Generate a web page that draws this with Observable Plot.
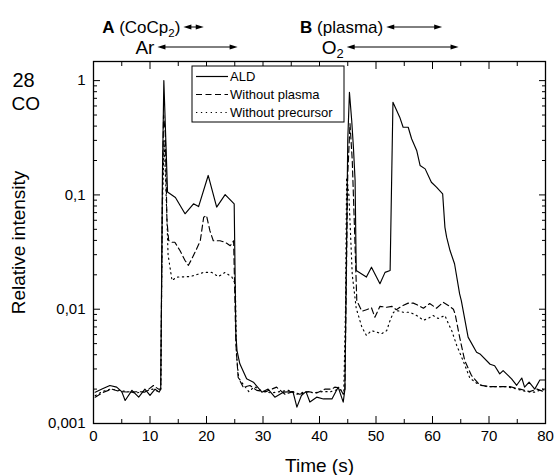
<!DOCTYPE html>
<html><head><meta charset="utf-8">
<script src="https://cdn.jsdelivr.net/npm/d3@7"></script>
<script src="https://cdn.jsdelivr.net/npm/@observablehq/plot@0.6"></script>
<style>body{margin:0;background:#fff}</style>
</head><body><div id="chart"></div>
<script>
// ---- data ----
const aldTime  = [0.3,1.5,2.9,4.1,5.0,5.6,6.8,8.0,9.1,10.0,10.9,11.6,11.9,12.2,12.45,12.8,13.1,14.5,16.2,17.7,18.6,20.3,21.8,23.3,24.9,25.2,25.4,25.9,27.1,28.3,29.8,30.9,32.1,33.6,35.3,36.0,36.8,37.6,38.3,39.5,40.7,42.2,43.3,44.2,44.5,45.0,45.3,45.7,46.0,46.3,46.5,48.3,49.2,50.7,51.6,52.5,53.0,54.2,54.8,55.7,56.3,57.2,57.8,58.7,59.8,60.7,61.8,62.2,62.5,63.1,63.9,64.8,65.1,66.3,67.8,68.4,70.2,71.0,71.9,72.5,74.0,74.9,75.8,76.3,77.1,78.1,79.0,80.0];
const aldValue = [0.00188,0.0020,0.00215,0.00208,0.0019,0.00159,0.00195,0.0017,0.0020,0.00176,0.0020,0.00188,0.0020,0.15,1.0,0.3,0.106,0.095,0.0684,0.0836,0.079,0.148,0.0783,0.1007,0.0836,0.006,0.00435,0.00333,0.00246,0.0023,0.00188,0.0020,0.0017,0.00188,0.0019,0.00139,0.00176,0.0019,0.00154,0.0017,0.00164,0.00164,0.00208,0.00154,0.0020,0.3,0.79,0.448,0.262,0.134,0.0218,0.0191,0.0233,0.0167,0.021,0.0218,0.647,0.479,0.391,0.391,0.31,0.245,0.181,0.169,0.129,0.117,0.102,0.052,0.0427,0.0326,0.025,0.0136,0.0119,0.0057,0.0042,0.00406,0.0033,0.0032,0.00272,0.0029,0.00246,0.00216,0.0025,0.00208,0.0023,0.0020,0.0024,0.0024];

const noPlasmaTime  = [0.3,1.8,3.2,4.7,6.5,8.0,9.1,10.6,11.5,11.9,12.2,12.4,12.7,13.0,13.3,13.9,14.4,15.3,16.2,16.8,17.4,18.0,18.9,19.5,20.0,20.6,21.2,22.4,23.3,24.2,24.8,25.2,25.6,26.5,27.7,28.9,30.5,32.4,33.9,35.3,36.5,38.0,39.5,41.0,42.2,42.7,43.6,44.2,44.5,45.0,45.4,45.8,46.2,46.6,47.5,48.3,49.2,49.8,50.7,51.9,52.8,53.6,54.5,55.7,56.6,57.5,58.4,59.5,60.7,61.9,62.8,63.7,64.0,64.8,65.7,66.9,68.4,70.3,72.0,73.7,75.5,77.2,78.5,79.7,80.0];
const noPlasmaValue = [0.0017,0.00188,0.0020,0.0019,0.00188,0.0019,0.00188,0.00215,0.0020,0.0020,0.1,0.5,0.35,0.06,0.04,0.0385,0.0385,0.0326,0.0267,0.0242,0.0276,0.0317,0.0397,0.0638,0.066,0.0487,0.0397,0.0397,0.0385,0.0359,0.0397,0.005,0.00254,0.00208,0.00215,0.00195,0.0019,0.00208,0.0018,0.0019,0.0018,0.0019,0.00185,0.0020,0.0020,0.00208,0.00205,0.0018,0.0020,0.15,0.42,0.2,0.05,0.0119,0.0096,0.0099,0.0103,0.0085,0.0106,0.0104,0.0106,0.0099,0.0106,0.0113,0.0113,0.0108,0.0102,0.0112,0.0102,0.0115,0.0108,0.0100,0.0091,0.0057,0.00356,0.00263,0.00216,0.0021,0.0021,0.0021,0.0020,0.0019,0.0020,0.0019,0.00195];

const noPrecursorTime  = [0.3,1.5,3.0,4.5,6.0,7.5,9.0,10.5,11.5,11.9,12.2,12.5,12.8,13.2,13.9,14.7,15.9,17.1,18.3,19.5,20.9,22.1,23.3,24.5,25.1,25.3,25.7,26.5,27.5,28.5,30.0,31.5,33.0,34.5,36.0,37.5,39.0,40.5,42.0,43.5,44.3,44.6,44.8,45.2,45.8,46.5,47.5,48.3,49.2,50.1,51.0,51.9,52.5,53.1,53.9,54.8,56.0,57.2,58.4,59.2,60.1,61.0,62.2,62.8,63.4,64.3,65.4,66.6,68.1,69.6,71.5,73.1,75.0,76.6,78.1,79.5,80.0];
const noPrecursorValue = [0.00175,0.0019,0.0020,0.00195,0.0019,0.00185,0.0019,0.0020,0.0019,0.0020,0.08,0.3,0.12,0.03,0.0178,0.0191,0.0192,0.0193,0.0201,0.021,0.021,0.0193,0.021,0.0191,0.0166,0.004,0.0025,0.0022,0.0019,0.0021,0.0019,0.00185,0.0019,0.00195,0.0018,0.0019,0.00185,0.0019,0.0019,0.0020,0.0019,0.01,0.142,0.1,0.02,0.0102,0.00697,0.0059,0.0065,0.0063,0.0061,0.0065,0.008,0.0094,0.0097,0.0094,0.0094,0.0088,0.008,0.0083,0.0088,0.0083,0.0088,0.0075,0.0065,0.0048,0.00356,0.0025,0.0022,0.0021,0.0021,0.0021,0.0020,0.0019,0.00188,0.0020,0.0019];

const seriesNames = ["ALD", "Without plasma", "Without precursor"];

const xMajor = [0,10,20,30,40,50,60,70,80];
const xMinor = [5,15,25,35,45,55,65,75];
const yMajor = [0.001,0.01,0.1,1];
const yTickLabels = ["0,001","0,01","0,1","1"];
const yTop = 1.47;

// phase annotations above the frame (time spans in s)
const phaseBold  = ["A", "", "B", ""];
const phaseText  = [" (CoCp", "Ar", " (plasma)", "O"];
const phaseSub   = ["2", "", "", "2"];
const phaseTail  = [")", "", "", ""];
const phaseStart = [16.0, 11.4, 51.9, 44.9];
const phaseEnd   = [19.6, 25.6, 61.8, 64.7];
const phaseRow   = [0, 1, 0, 1];

// ---- build tables ----
const zip = (T, V) => T.map((t, i) => ({t, v: V[i]}));
const series = [zip(aldTime, aldValue), zip(noPlasmaTime, noPlasmaValue), zip(noPrecursorTime, noPrecursorValue)];
const dashes = [null, "6,3.5", "1.3,3.6"];
const yMinor = yMajor.flatMap(d => [2,3,4,5,6,7,8,9].map(k => k * d)).filter(v => v < yTop);

const font = "'Liberation Sans', Arial, sans-serif";

function header(index, scales, values, dims) {
  const x = scales.x;
  const g = d3.create("svg:g").attr("font-family", font).attr("fill", "black");
  phaseStart.forEach((s, i) => {
    const x1 = x(s), x2 = x(phaseEnd[i]);
    const y = phaseRow[i] === 0 ? dims.marginTop - 34 : dims.marginTop - 14;
    const size = phaseRow[i] === 0 ? 17 : 19;
    const t = g.append("text").attr("x", x1 - 3).attr("y", y).attr("dy", "0.35em")
      .attr("text-anchor", "end").attr("font-size", size);
    if (phaseBold[i]) t.append("tspan").attr("font-weight", "bold").text(phaseBold[i]);
    t.append("tspan").text(phaseText[i]);
    if (phaseSub[i]) t.append("tspan").attr("font-size", size * 0.68).attr("dy", size * 0.22).text(phaseSub[i]);
    if (phaseTail[i]) t.append("tspan").attr("dy", -size * 0.22).text(phaseTail[i]);
    g.append("line").attr("x1", x1 + 5).attr("x2", x2 - 5).attr("y1", y).attr("y2", y)
      .attr("stroke", "black").attr("stroke-width", 1);
    g.append("path").attr("d", `M${x1},${y}L${x1 + 8},${y - 2.6}L${x1 + 8},${y + 2.6}Z`);
    g.append("path").attr("d", `M${x2},${y}L${x2 - 8},${y - 2.6}L${x2 - 8},${y + 2.6}Z`);
  });
  return g.node();
}

function legend(index, scales, values, dims) {
  const x0 = dims.marginLeft + 99, y0 = dims.marginTop + 5;
  const g = d3.create("svg:g").attr("font-family", font).attr("font-size", 13).attr("text-anchor", "start");
  g.append("rect").attr("x", x0).attr("y", y0).attr("width", 152).attr("height", 56)
    .attr("fill", "white").attr("stroke", "black").attr("stroke-width", 1);
  seriesNames.forEach((name, i) => {
    const y = y0 + 10.5 + i * 18;
    g.append("line").attr("x1", x0 + 4).attr("x2", x0 + 36).attr("y1", y).attr("y2", y)
      .attr("stroke", "black").attr("stroke-width", 1.2).attr("stroke-dasharray", dashes[i]);
    g.append("text").attr("x", x0 + 38).attr("y", y).attr("dy", "0.35em")
      .attr("text-anchor", "start").attr("fill", "black").text(name);
  });
  return g.node();
}

const blank = () => "";
const chart = Plot.plot({
  width: 554, height: 475,
  marginLeft: 93, marginRight: 9, marginTop: 61, marginBottom: 52,
  style: {fontFamily: font, background: "white", color: "black", overflow: "visible"},
  x: {domain: [0, 80]},
  y: {type: "log", domain: [0.001, yTop]},
  marks: [
    ...series.map((d, i) => Plot.line(d, {x: "t", y: "v", stroke: "black", strokeWidth: 1.15, strokeDasharray: dashes[i]})),
    Plot.frame({stroke: "black", strokeWidth: 1.3}),
    // inward ticks
    Plot.axisX({anchor: "bottom", ticks: xMajor, tickSize: 7, dy: -7, tickFormat: blank, label: null}),
    Plot.axisX({anchor: "bottom", ticks: xMinor, tickSize: 4, dy: -4, tickFormat: blank, label: null}),
    Plot.axisX({anchor: "top", ticks: xMajor, tickSize: 7, dy: 7, tickFormat: blank, label: null}),
    Plot.axisX({anchor: "top", ticks: xMinor, tickSize: 4, dy: 4, tickFormat: blank, label: null}),
    Plot.axisY({anchor: "left", ticks: yMajor, tickSize: 7, dx: 7, tickFormat: blank, label: null}),
    Plot.axisY({anchor: "left", ticks: yMinor, tickSize: 4, dx: 4, tickFormat: blank, label: null}),
    Plot.axisY({anchor: "right", ticks: yMajor, tickSize: 7, dx: -7, tickFormat: blank, label: null}),
    Plot.axisY({anchor: "right", ticks: yMinor, tickSize: 4, dx: -4, tickFormat: blank, label: null}),
    // tick labels
    Plot.axisX({anchor: "bottom", ticks: xMajor, tickSize: 0, tickPadding: 7, fontSize: 15, label: null}),
    Plot.axisY({anchor: "left", ticks: yMajor, tickSize: 0, tickPadding: 8, fontSize: 15, label: null,
      tickFormat: d => yTickLabels[yMajor.indexOf(d)]}),
    // titles
    Plot.text(["Relative intensity"], {frameAnchor: "left", dx: -75, rotate: -90, textAnchor: "middle", lineAnchor: "middle", fontSize: 19}),
    Plot.text(["Time (s)"], {frameAnchor: "bottom", dy: 42, textAnchor: "middle", lineAnchor: "middle", fontSize: 19}),
    Plot.text(["28"], {frameAnchor: "top-left", dx: -81, dy: 19, textAnchor: "start", lineAnchor: "middle", fontSize: 20}),
    Plot.text(["CO"], {frameAnchor: "top-left", dx: -82, dy: 42, textAnchor: "start", lineAnchor: "middle", fontSize: 19}),
    legend,
    header
  ]
});
document.getElementById("chart").append(chart);
</script>
</body></html>
